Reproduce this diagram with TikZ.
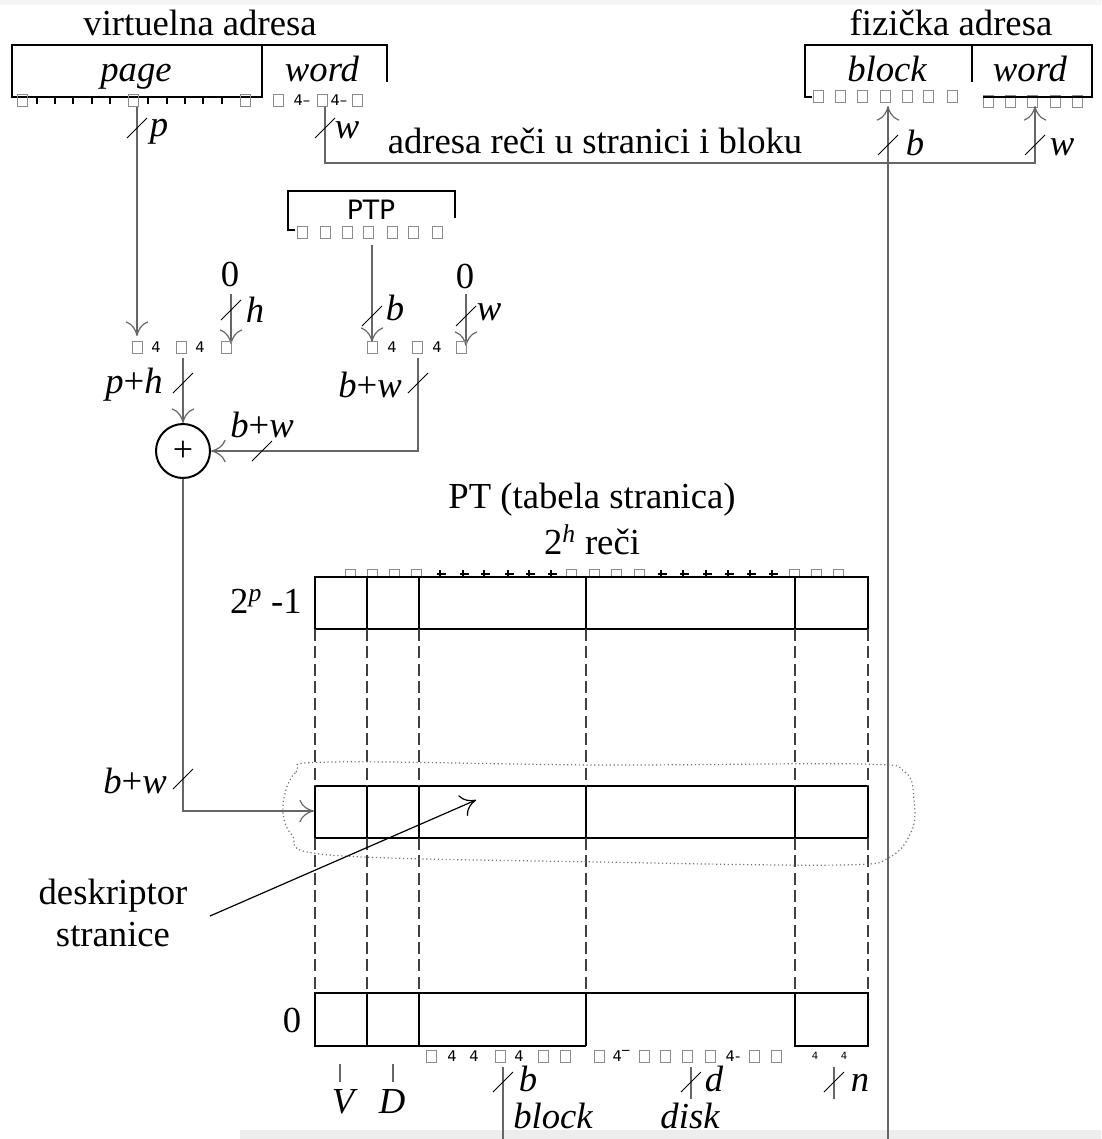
\documentclass[tikz,border=0pt]{standalone}
\usepackage{fontspec}
\setmainfont{Liberation Serif}
\newfontfamily\sfglyph{DejaVu Sans}
\usetikzlibrary{arrows.meta}
\newcommand\bmark[2]{\draw[busm] (#1-10,#2+10) -- (#1+10,#2-10);}
\newcommand\gsq[2]{\draw[gq] (#1-5,#2-6) rectangle (#1+5,#2+6);}
\newcommand\gsqh[2]{\draw[gq] (#1-5,#2-4) rectangle (#1+5,#2+4);}
\newcommand\gfour[2]{\node[g4] at (#1,#2) {4};}
\newcommand\gtick[2]{\draw[gt] (#1,#2-7) -- (#1,#2) (#1-3,#2-3) -- (#1+6,#2-3);}
\begin{document}
\begin{tikzpicture}[x=0.75pt,y=-0.75pt,
  conn/.style={draw=black!60,line width=0.9pt},
  tip/.style={-{Computer Modern Rightarrow[length=11pt,width=17pt,line width=0.9pt]}},
  bx/.style={draw=black,line width=1.5pt},
  busm/.style={draw=black,line width=0.7pt},
  T/.style={inner sep=0pt,font=\fontsize{27.5}{32}\selectfont},
  I/.style={inner sep=0pt,font=\fontsize{27.5}{32}\selectfont\itshape},
  gq/.style={draw=black!45,line width=0.6pt},
  gt/.style={draw=black,line width=0.8pt},
  g4/.style={inner sep=0pt,font=\sfglyph\fontsize{11}{12}\selectfont},
  g4s/.style={inner sep=0pt,font=\sfglyph\fontsize{7.5}{9}\selectfont},
  dsh/.style={draw=black!75,line width=0.9pt,dash pattern=on 9pt off 4pt},
]
\useasboundingbox (0,0) rectangle (1101,1139);
\fill[black!7] (240,1130) rectangle (1101,1139);
\fill[black!4] (0,0) rectangle (1101,5);

% titles
\node[T,anchor=base] (vtitle) at (200,35) {virtuelna adresa};
\node[T,anchor=base] (ptitle) at (951,35) {fizička adresa};

% virtual address register
\draw[bx] (12,45) rectangle (262,97);
\draw[bx] (262,45) -- (387,45) -- (387,82);
\node[I,anchor=base] (page) at (136,81) {page};
\node[I,anchor=base] (vword) at (322,81) {word};
\foreach \x in {22,133,245,278,322,357} {\gsq{\x}{100}}
\foreach \x in {37,55,73,92,110,148,167,185,203,222} {\draw[gt] (\x,97) -- (\x,104);}
\node[g4] at (302,100) {4–};
\node[g4] at (339,100) {4–};

% physical address register
\foreach \x in {988,1010,1032,1055,1077} {\gsq{\x}{101}}
\draw[bx] (812,97) -- (805,97) -- (805,45) -- (1092,45) -- (1092,97) -- (983,97);
\draw[bx] (972,45) -- (972,82);
\node[I,anchor=base] (block) at (887,81) {block};
\node[I,anchor=base] (pword) at (1030,81) {word};
\foreach \x in {818,840,862,885,907,928,952} {\gsq{\x}{96}}

% PTP
\draw[bx] (295,230) -- (288,230) -- (288,191) -- (455,191) -- (455,218);
\node[inner sep=0pt,font=\sfglyph\fontsize{20}{24}\selectfont] (ptp) at (371,210) {PTP};
\foreach \x in {302,325,347,368,392,413,437} {\gsq{\x}{232}}

% page number / word connectors
\coordinate (pA) at (137,107); \coordinate (pB) at (137,336);
\draw[conn,tip] (pA) -- (pB);
\bmark{137}{128}
\node[I] (lp) at (159,132) {p};
\coordinate (wA) at (325,107); \coordinate (wB) at (1035,106);
\draw[conn,tip] (wA) -- (325,163) -- (1035,163) -- (wB);
\bmark{325}{128}
\node[I] (lw1) at (347,130) {w};
\node[T,anchor=base] (adr) at (595,153) {adresa reči u stranici i bloku};
\coordinate (bA) at (888,1139); \coordinate (bB) at (888,106);
\draw[conn,tip] (bA) -- (bB);
\bmark{888}{145}
\node[I] (lb1) at (915,143) {b};
\bmark{1035}{145}
\node[I] (lw2) at (1062,147) {w};

% zeros and PTP
\node[T] (z1) at (230,274) {0};
\draw[conn,tip] (231,294) -- (231,344);
\bmark{231}{310}
\node[I] (lh) at (255,310) {h};
\node[T] (z2) at (465,276) {0};
\draw[conn,tip] (466,294) -- (466,346);
\bmark{466}{316}
\node[I] (lw3) at (489,312) {w};
\draw[conn,tip] (372,245) -- (372,342);
\bmark{372}{316}
\node[I] (lb2) at (395,308) {b};

% concatenation glyph rows
\foreach \x in {137,181,226,372,417,461} {\gsq{\x}{347}}
\foreach \x in {156,200,392,437} {\gfour{\x}{347}}

% adder
\node[circle,draw,line width=1.5pt,minimum size=40.5pt,inner sep=0pt,font=\fontsize{27}{30}\selectfont] (add) at (183,451) {+};
\draw[conn,tip] (183,358) -- (add.north);
\bmark{183}{383}
\node[T] (lph) at (134,385) {\textit{p}+\textit{h}};
\draw[conn,tip] (418,358) -- (418,451) -- (add.east);
\bmark{418}{383}
\node[T] (lbw1) at (370,385) {\textit{b}+\textit{w}};
\bmark{262}{451}
\node[T] (lbw2) at (262,425) {\textit{b}+\textit{w}};
\coordinate (rowin) at (314,811);
\draw[conn,tip] (add.south) -- (183,811) -- (rowin);
\bmark{183}{779}
\node[T] (lbw3) at (135,781) {\textit{b}+\textit{w}};

% page table
\node[T] (pttitle) at (592,500) {PT (tabela stranica)};
\node[T] (ptsize) at (592,540) {2\textsuperscript{\textit{h}} reči};
\foreach \x in {350,372,394,416,571,594,616,639,794,816,838} {\gsqh{\x}{573}}
\foreach \x in {440,463,484,508,529,551,661,683,706,728,750,772} {\gtick{\x}{577}}
\foreach \ya/\yb in {577/629,786/838} {
  \draw[bx] (315,\ya) rectangle (868,\yb);
  \foreach \x in {367,419,586,795} {\draw[bx] (\x,\ya) -- (\x,\yb);}
}
\draw[bx] (586,1046) -- (315,1046) -- (315,993) -- (868,993) -- (868,1046) -- (795,1046) -- (795,993);
\foreach \x in {367,419,586} {\draw[bx] (\x,993) -- (\x,1046);}
\foreach \x in {315,367,419,586,795,868} {
  \draw[dsh] (\x,629) -- (\x,786);
  \draw[dsh] (\x,838) -- (\x,993);
}
\node[T] (ltop) at (266,601) {2\textsuperscript{\textit{p}} -1};
\node[T] (lzero) at (292,1020) {0};

% descriptor outline and pointer
\draw[dotted,black!55,line width=0.9pt] plot[smooth cycle,tension=0.6] coordinates {(283,805) (296,772) (330,762) (600,765) (860,764) (905,772) (914,800) (912,830) (890,857) (840,865) (600,862) (330,855) (292,835)};
\node[T,align=center] (desc) at (113,913) {deskriptor\\stranice};
\coordinate (dA) at (210,916); \coordinate (dB) at (476,800);
\draw[black,line width=0.9pt,tip] (dA) -- (dB);

% bottom glyph row
\foreach \x in {431,500,543,565,599,644,665,687,710,754,776} {\gsq{\x}{1056}}
\foreach \x in {452,474,519} {\gfour{\x}{1056}}
\node[g4] at (621,1056) {4‾};
\node[g4] at (733,1056) {4-};
\node[g4s] at (815,1056) {4};
\node[g4s] at (844,1056) {4};

% field labels
\draw[conn] (340,1064) -- (340,1082);
\node[I] (lV) at (343,1102) {V};
\draw[conn] (393,1064) -- (393,1082);
\node[I] (lD) at (392,1102) {D};
\draw[conn] (503,1067) -- (503,1139);
\bmark{503}{1082}
\node[I] (lb3) at (528,1079) {b};
\node[I] (lblock) at (553,1116) {block};
\draw[conn] (691,1067) -- (691,1099);
\bmark{691}{1082}
\node[I] (ld) at (714,1079) {d};
\node[I] (ldisk) at (690,1116) {disk};
\draw[conn] (834,1067) -- (834,1099);
\bmark{834}{1082}
\node[I] (ln) at (860,1083) {n};
\end{tikzpicture}
\end{document}
